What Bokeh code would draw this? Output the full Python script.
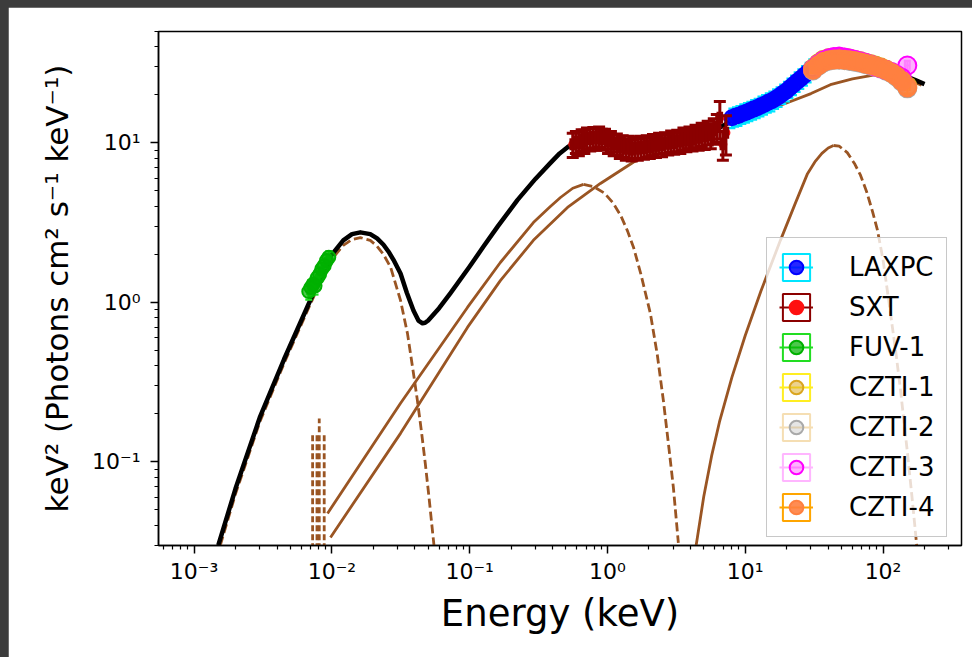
from bokeh.plotting import figure
from bokeh.models import (ColumnDataSource, FixedTicker, CustomJSTickFormatter,
                          Legend, LegendItem)
from bokeh.layouts import column
from bokeh.embed import file_html
from bokeh.resources import INLINE
import math

# ---------------- model curves (energy in keV, keV^2 photons cm^-2 s^-1 keV^-1) ----------------
model_e = [1.5e-3, 2.0e-3, 3.0e-3, 4.5e-3, 6.5e-3, 8.0e-3, 9.8e-3, 0.0121, 0.014, 0.0161,
           0.019, 0.0213, 0.0237, 0.0258, 0.028, 0.0315, 0.035, 0.0391, 0.0425, 0.0455,
           0.0475, 0.05, 0.06, 0.0726, 0.1, 0.126, 0.16, 0.222, 0.3, 0.386,
           0.45, 0.513, 0.557, 0.65, 0.75, 0.889, 1.0, 1.2, 1.5, 2.0,
           2.5, 3.0, 4.0, 5.0, 6.0, 7.0, 8.07, 10.0, 12.3, 16.0,
           21.3, 26.0, 31.0, 38.0, 45.0, 55.0, 65.0, 80.0, 100.0, 125.0,
           150.0, 175.0, 200.0]
model_f = [0.030, 0.068, 0.19, 0.44, 0.90, 1.35, 1.95, 2.45, 2.68, 2.75,
           2.68, 2.52, 2.30, 2.08, 1.85, 1.52, 1.15, 0.89, 0.77, 0.74,
           0.745, 0.77, 0.92, 1.145, 1.68, 2.24, 3.0, 4.38, 5.95, 7.5,
           8.6, 9.4, 9.85, 10.3, 10.6, 10.7, 10.5, 9.9, 9.5, 9.5,
           9.8, 10.1, 10.7, 11.3, 12.0, 12.9, 14.0, 15.5, 16.8, 18.6,
           22.2, 25.7, 28.6, 31.5, 33.0, 33.4, 33.0, 31.8, 30.0, 27.8,
           26.0, 24.6, 23.4]

# UV thermal bump
bb_e = [1.55e-3, 2.0e-3, 3.0e-3, 4.5e-3, 6.5e-3, 8.0e-3, 9.8e-3, 0.0121, 0.014, 0.0161,
        0.019, 0.0213, 0.0237, 0.0267, 0.0315, 0.0354, 0.0391, 0.0417, 0.0447, 0.0477,
        0.0507, 0.0537, 0.0558]
bb_f = [0.030, 0.063, 0.178, 0.415, 0.85, 1.27, 1.83, 2.28, 2.48, 2.55,
        2.45, 2.25, 2.0, 1.66, 1.03, 0.637, 0.36, 0.245, 0.155, 0.097,
        0.060, 0.037, 0.027]

# soft X-ray disc bump
disc_rise_e = [9.3e-3, 0.0315, 0.0964, 0.167, 0.29, 0.38, 0.456, 0.56, 0.67]
disc_rise_f = [0.0475, 0.233, 0.93, 1.78, 3.17, 3.95, 4.55, 5.2, 5.5]
disc_fall_e = [0.67, 0.8, 0.95, 1.1, 1.25, 1.4, 1.55, 1.75, 2.05, 2.3, 2.55, 2.8, 3.01, 3.27]
disc_fall_f = [5.5, 5.3, 4.85, 4.2, 3.5, 2.8, 2.2, 1.5, 0.85, 0.47, 0.24, 0.12, 0.069, 0.031]

# Comptonised continuum
comp_e = [9.77e-3, 0.0315, 0.0964, 0.167, 0.29, 0.513, 0.889, 1.55, 2.6, 5.4,
          10.0, 18.9, 30.0, 41.5, 60.0, 85.0, 110.0, 134.0, 160.0, 190.0]
comp_f = [0.0336, 0.151, 0.697, 1.37, 2.45, 3.94, 5.57, 7.6, 9.3, 11.8,
          14.3, 17.5, 20.4, 23.2, 25.2, 26.6, 26.6, 25.8, 24.6, 23.0]

# reflection hump
refl_rise_e = [4.35, 5.0, 5.7, 6.5, 8.0, 10.0, 13.0, 18.0, 23.0, 28.3, 32.0, 36.0, 40.0, 43.7]
refl_rise_f = [0.028, 0.0607, 0.109, 0.178, 0.339, 0.62, 1.18, 2.45, 4.15, 6.42, 7.6, 8.6, 9.3, 9.64]
refl_fall_e = [43.7, 48.0, 55.0, 62.0, 68.5, 76.0, 84.0, 91.0, 100.0, 113.0, 124.0, 134.0,
               150.0, 162.0, 172.0, 178.0]
refl_fall_f = [9.64, 9.55, 8.7, 7.44, 6.3, 4.95, 3.7, 2.85, 1.85, 0.867, 0.483, 0.281,
               0.116, 0.061, 0.036, 0.0264]

# narrow model spikes in the UV band
spike_e = [7.25e-3, 7.8e-3, 8.1e-3, 8.8e-3]
spike_top = [0.15, 0.15, 0.187, 0.15]
spike_base = 0.01

# ---------------- observed spectra ----------------
fuv_e = [6.8e-3, 7.05e-3, 7.3e-3, 7.55e-3, 7.85e-3, 8.15e-3, 8.45e-3, 8.8e-3, 9.15e-3, 9.5e-3]
fuv_f = [1.17, 1.24, 1.30, 1.27, 1.43, 1.50, 1.62, 1.70, 1.83, 1.92]
fuv_ferr = [0.13, 0.14, 0.13, 0.15, 0.14, 0.15, 0.16, 0.15, 0.17, 0.17]
fuv_eerr = [0.16e-3, 0.16e-3, 0.17e-3, 0.17e-3, 0.18e-3, 0.19e-3, 0.2e-3, 0.2e-3, 0.21e-3, 0.22e-3]

sxt_e = [0.56, 0.59, 0.62, 0.65, 0.68, 0.71, 0.75, 0.79, 0.83, 0.87,
         0.91, 0.96, 1.01, 1.06, 1.11, 1.17, 1.23, 1.29, 1.36, 1.43,
         1.50, 1.58, 1.66, 1.75, 1.84, 1.93, 2.03, 2.14, 2.25, 2.37,
         2.49, 2.62, 2.76, 2.90, 3.05, 3.21, 3.38, 3.56, 3.74, 3.94,
         4.14, 4.36, 4.59, 4.83, 5.08, 5.34, 5.62, 5.91, 6.22, 6.54,
         6.88, 7.24]
sxt_f = [9.8, 10.2, 10.0, 10.5, 10.3, 10.8, 10.6, 10.9, 10.7, 11.0,
         10.6, 10.7, 10.2, 10.3, 9.8, 9.9, 9.4, 9.6, 9.2, 9.5,
         9.1, 9.4, 9.2, 9.5, 9.3, 9.6, 9.4, 9.8, 9.6, 10.0,
         9.7, 10.1, 9.9, 10.3, 10.0, 10.4, 10.2, 10.7, 10.4, 10.9,
         10.6, 11.1, 10.8, 11.4, 11.0, 11.7, 11.2, 12.0, 12.6, 14.4,
         9.8, 11.6]
sxt_ferr = [1.7, 1.6, 1.7, 1.6, 1.7, 1.6, 1.7, 1.6, 1.7, 1.6,
            1.6, 1.5, 1.6, 1.5, 1.5, 1.5, 1.4, 1.5, 1.4, 1.5,
            1.4, 1.5, 1.4, 1.5, 1.4, 1.5, 1.4, 1.5, 1.5, 1.5,
            1.5, 1.5, 1.5, 1.6, 1.5, 1.6, 1.6, 1.7, 1.6, 1.7,
            1.7, 1.8, 1.8, 1.9, 1.9, 2.0, 2.0, 2.2, 2.5, 3.8,
            2.0, 3.2]
sxt_eerr = [0.017, 0.018, 0.019, 0.020, 0.020, 0.021, 0.023, 0.024, 0.025, 0.026,
            0.027, 0.029, 0.030, 0.032, 0.033, 0.035, 0.037, 0.039, 0.041, 0.043,
            0.045, 0.047, 0.050, 0.053, 0.055, 0.058, 0.061, 0.064, 0.068, 0.071,
            0.075, 0.079, 0.083, 0.087, 0.092, 0.096, 0.101, 0.107, 0.112, 0.118,
            0.124, 0.131, 0.138, 0.145, 0.152, 0.160, 0.169, 0.177, 0.187, 0.196,
            0.206, 0.217]

laxpc_e = [8.0, 8.5, 9.0, 9.6, 10.2, 10.8, 11.5, 12.2, 13.0, 13.8, 14.7, 15.6,
           16.6, 17.6, 18.7, 19.9, 21.1, 22.4, 23.8, 25.3, 26.9, 28.6, 30.4]
laxpc_f = [14.4, 14.7, 14.9, 15.3, 15.6, 15.9, 16.3, 16.6, 17.1, 17.5, 18.0, 18.4,
           19.0, 19.6, 20.4, 21.2, 22.2, 23.2, 24.3, 25.4, 26.6, 27.9, 29.3]
laxpc_ferr = [2.0, 2.05, 2.1, 2.15, 2.2, 2.2, 2.3, 2.3, 2.4, 2.45, 2.5, 2.6,
              2.65, 2.75, 2.85, 3.0, 3.1, 3.25, 3.4, 3.55, 3.7, 3.9, 4.1]
laxpc_eerr = [0.25, 0.26, 0.27, 0.29, 0.31, 0.33, 0.35, 0.37, 0.39, 0.41, 0.44, 0.47,
              0.50, 0.53, 0.56, 0.60, 0.63, 0.67, 0.71, 0.76, 0.81, 0.86, 0.91]

czti_e = [31.0, 34.0, 37.0, 40.5, 44.0, 48.0, 52.5, 57.0, 62.0, 68.0,
          74.0, 81.0, 88.0, 96.0, 105.0, 115.0, 125.0, 137.0, 150.0]
czti_eerr = [1.2, 1.3, 1.4, 1.6, 1.7, 1.9, 2.1, 2.2, 2.4, 2.7,
             2.9, 3.2, 3.4, 3.8, 4.1, 4.5, 4.9, 5.4, 5.9]
czti1_f = [29.3, 31.6, 33.3, 34.1, 34.4, 34.5, 34.2, 33.8, 33.3, 32.7,
           32.0, 31.3, 30.6, 29.8, 28.9, 27.8, 26.6, 24.8, 22.8]
czti2_f = [28.5, 30.5, 32.0, 32.8, 33.2, 33.2, 33.0, 32.7, 32.3, 31.8,
           31.2, 30.6, 30.0, 29.3, 28.4, 27.4, 26.0, 24.2, 22.0]
czti3_f = [29.0, 31.2, 32.9, 34.0, 34.6, 34.8, 34.4, 33.8, 33.2, 32.5,
           31.8, 31.0, 30.2, 29.4, 28.7, 27.9, 26.8, 25.6, 30.6]
czti4_f = [28.8, 30.8, 32.3, 33.0, 33.4, 33.5, 33.3, 33.0, 32.6, 32.1,
           31.5, 30.9, 30.3, 29.6, 28.7, 27.6, 26.3, 24.5, 22.3]
czti_ferr = [1.4, 1.5, 1.6, 1.6, 1.7, 1.7, 1.7, 1.7, 1.7, 1.7,
             1.7, 1.7, 1.7, 1.7, 1.8, 1.8, 1.9, 2.0, 2.1]

# axis ticks
x_major = [1e-3, 1e-2, 1e-1, 1.0, 10.0, 100.0]
y_major = [0.1, 1.0, 10.0]
x_minor = [k * 10.0 ** d for d in range(-4, 3) for k in range(2, 10)]
y_minor = [k * 10.0 ** d for d in range(-2, 2) for k in range(2, 10)]

FONT = "DejaVu Sans"
BROWN = "#9a5523"
NAN = float("nan")

p = figure(width=964, height=650, x_axis_type="log", y_axis_type="log",
           x_range=(5.52e-4, 371.0), y_range=(0.0299, 50.0),
           output_backend="svg", toolbar_location=None,
           min_border_left=150, min_border_right=11, min_border_top=24, min_border_bottom=112,
           background_fill_color="white", border_fill_color="white")
p.margin = (7, 0, 0, 8)
p.xgrid.visible = False
p.ygrid.visible = False
p.outline_line_color = "black"
p.outline_line_width = 1.5
p.outline_line_alpha = 1.0

fmt = CustomJSTickFormatter(code="""
const e = Math.round(Math.log10(tick));
const sup = {"-": "\u207b", "0": "\u2070", "1": "\u00b9", "2": "\u00b2", "3": "\u00b3",
             "4": "\u2074", "5": "\u2075", "6": "\u2076", "7": "\u2077", "8": "\u2078", "9": "\u2079"};
return "10" + String(e).split("").map(c => sup[c]).join("");
""")

p.xaxis.ticker = FixedTicker(ticks=x_major, minor_ticks=x_minor)
p.yaxis.ticker = FixedTicker(ticks=y_major, minor_ticks=y_minor)
for ax in (p.xaxis[0], p.yaxis[0]):
    ax.formatter = fmt
    ax.major_tick_out = 8
    ax.major_tick_in = 0
    ax.minor_tick_out = 4
    ax.minor_tick_in = 0
    ax.major_tick_line_width = 1.5
    ax.minor_tick_line_width = 1.2
    ax.axis_line_width = 1.5
    ax.major_label_text_font = FONT
    ax.major_label_text_font_size = "22px"
    ax.major_label_text_color = "black"
    ax.axis_label_text_font = FONT
    ax.axis_label_text_font_style = "normal"
    ax.axis_label_text_color = "black"

p.xaxis.axis_label = "Energy (keV)"
p.xaxis.axis_label_text_font_size = "37px"
p.xaxis.major_label_standoff = 5
p.xaxis.axis_label_standoff = 5
p.yaxis.axis_label = "keV\u00b2 (Photons cm\u00b2 s\u207b\u00b9 keV\u207b\u00b9)"
p.yaxis.axis_label_text_font_size = "31px"
p.yaxis.major_label_standoff = 10
p.yaxis.axis_label_standoff = 14

# ---- model components ----
DASH = "9 4"
p.line(bb_e, bb_f, line_color=BROWN, line_width=2.8, line_dash=DASH)
p.segment(x0=spike_e, y0=[spike_base] * len(spike_e), x1=spike_e, y1=spike_top,
          line_color=BROWN, line_width=2.8, line_dash="6 3")
p.line(disc_rise_e, disc_rise_f, line_color=BROWN, line_width=2.8)
p.line(disc_fall_e, disc_fall_f, line_color=BROWN, line_width=2.8, line_dash=DASH)
p.line(comp_e, comp_f, line_color=BROWN, line_width=2.8)
p.line(refl_rise_e, refl_rise_f, line_color=BROWN, line_width=2.8)
p.line(refl_fall_e, refl_fall_f, line_color=BROWN, line_width=2.8, line_dash=DASH)
p.line(model_e, model_f, line_color="black", line_width=4.5, line_join="round")


def add_series(label, e, f, eerr, ferr, ecolor, mcolor, msize, mfill_alpha,
               cap=7, bar_width=2.2, markers_below=False):
    src = ColumnDataSource(dict(
        e=e, f=f,
        e_lo=[a - b for a, b in zip(e, eerr)], e_hi=[a + b for a, b in zip(e, eerr)],
        f_lo=[a - b for a, b in zip(f, ferr)], f_hi=[a + b for a, b in zip(f, ferr)],
    ))

    def markers():
        return p.scatter(x="e", y="f", source=src, marker="circle", size=msize,
                         fill_color=mcolor, fill_alpha=mfill_alpha,
                         line_color=mcolor, line_width=2)

    def bars():
        kw = dict(source=src, line_color=ecolor, line_width=bar_width)
        p.segment(x0="e", y0="f_lo", x1="e", y1="f_hi", **kw)
        p.segment(x0="e_lo", y0="f", x1="e_hi", y1="f", **kw)
        p.scatter(x="e", y="f_lo", marker="dash", size=cap, **kw)
        p.scatter(x="e", y="f_hi", marker="dash", size=cap, **kw)
        p.scatter(x="e_lo", y="f", marker="dash", angle=math.pi / 2, size=cap, **kw)
        p.scatter(x="e_hi", y="f", marker="dash", angle=math.pi / 2, size=cap, **kw)

    if markers_below:
        m = markers()
        bars()
    else:
        bars()
        m = markers()
    # legend key: error-bar box and bar behind the marker
    box = p.quad(left=[NAN], right=[NAN], top=[NAN], bottom=[NAN], fill_color=None,
                 line_color=ecolor, line_width=2)
    bar = p.line(x=[NAN], y=[NAN], line_color=ecolor, line_width=2)
    return LegendItem(label=label, renderers=[box, bar, m])


items = [
    add_series("LAXPC", laxpc_e, laxpc_f, laxpc_eerr, laxpc_ferr, "#00e5ff", "#0000ff", 15, 0.85),
    add_series("SXT", sxt_e, sxt_f, sxt_eerr, sxt_ferr, "#8b0000", "#ff1010", 7, 1.0,
               cap=12, bar_width=3.0, markers_below=True),
    add_series("FUV-1", fuv_e, fuv_f, fuv_eerr, fuv_ferr, "#22dd22", "#00b000", 13, 0.7),
    add_series("CZTI-1", czti_e, czti1_f, czti_eerr, czti_ferr, "#ffee22", "#daa520", 18, 0.5),
    add_series("CZTI-2", czti_e, czti2_f, czti_eerr, czti_ferr, "#f5deb3", "#a9a9a9", 18, 0.3),
    add_series("CZTI-3", czti_e, czti3_f, czti_eerr, czti_ferr, "#ffb6ff", "#ff00ff", 18, 0.3),
    add_series("CZTI-4", czti_e, czti4_f, czti_eerr, czti_ferr, "#ffa500", "#ff8040", 18, 0.9),
]

legend = Legend(items=items, location=(608, 8), glyph_width=34, glyph_height=34,
                label_height=34, spacing=6, padding=12, label_standoff=36, label_width=84,
                margin=0, label_text_font=FONT, label_text_font_size="26px",
                label_text_color="black", border_line_color="#c8c8c8", border_line_width=1.5,
                border_line_alpha=1.0, background_fill_color="white", background_fill_alpha=0.8)
p.add_layout(legend)

root = column(p, styles={"background-color": "#3c3c3c"})
open("out.html", "w").write(file_html(root, INLINE))
